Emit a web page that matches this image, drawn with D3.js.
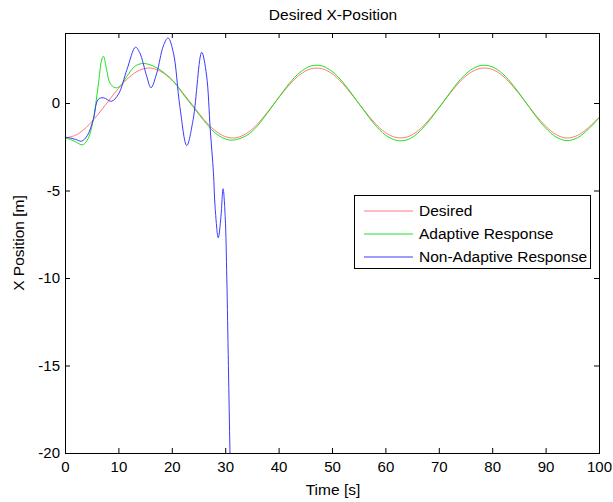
<!DOCTYPE html>
<html>
<head>
<meta charset="utf-8">
<script src="https://cdn.jsdelivr.net/npm/d3@7"></script>
<style>
  body { margin: 0; background: #fff; }
  text { font-family: "Liberation Sans", Arial, sans-serif; fill: #000; }
</style>
</head>
<body>
<svg class="chart"></svg>
<script>
const size = {w: 613, h: 502};
const box = {left: 65, right: 599, top: 33, bottom: 453};

// desired trajectory
const desiredT = [0,2,4,6,8,10,12,14,16,18,20,22,24,26,28,30,32,34,36,38,40,42,44,46,48,50,
    52,54,56,58,60,62,64,66,68,70,72,74,76,78,80,82,84,86,88,90,92,94,96,98,100];
const desiredX = [-2.00,-1.84,-1.39,-0.72,0.06,0.83,1.47,1.88,2.00,1.79,1.31,0.61,-0.17,-0.94,
    -1.55,-1.92,-1.99,-1.74,-1.22,-0.49,0.29,1.04,1.62,1.95,1.97,1.68,1.11,0.37,-0.41,-1.14,
    -1.69,-1.97,-1.95,-1.61,-1.01,-0.27,0.51,1.23,1.75,1.99,1.92,1.54,0.91,0.15,-0.64,-1.32,
    -1.81,-2.00,-1.85,-1.41,-0.82];

// adaptive response (green)
const adaptiveT = [0,1,2,3.3,4.3,5.3,6.2,6.9,7.2,7.8,8.4,9.4,10.3,11.6,13.1,14.7,17.2,20.3,22,24,
    26,28,30,31.5,34,36,38,40,42,44,46,48,50,52,54,56,58,60,62,64,66,68,70,72,74,76,78,80,82,
    84,86,88,90,92,94,96,98,100];
const adaptiveX = [-2.00,-2.08,-2.22,-2.39,-2.05,-0.94,0.96,2.50,2.67,1.90,1.15,0.87,0.96,1.53,
    2.10,2.26,2.01,1.25,0.55,-0.22,-1.00,-1.68,-2.05,-2.12,-1.86,-1.32,-0.53,0.31,1.12,1.75,
    2.11,2.13,1.81,1.20,0.40,-0.44,-1.23,-1.83,-2.13,-2.11,-1.74,-1.09,-0.29,0.55,1.33,1.89,
    2.15,2.07,1.66,0.98,0.16,-0.69,-1.43,-1.95,-2.15,-1.98,-1.50,-0.85];

// non-adaptive response (blue), diverges after ~30 s
const nonAdaptiveT = [0,1,2,3.1,4.2,5.3,6.2,7.2,8.7,10,11.6,13.2,14,15.3,16.1,17.2,18.4,19.3,20.3,
    21.5,22.8,24,25.6,26.5,27.2,27.8,28.1,28.7,29.2,29.6,30,30.3,30.6,30.9,31.2];
const nonAdaptiveX = [-1.95,-2.00,-2.08,-2.18,-1.85,-0.94,0.20,0.30,0.10,0.50,1.91,3.19,2.87,1.53,
    0.87,1.73,3.25,3.72,2.87,-0.18,-2.43,-0.94,2.90,1.60,-1.51,-3.99,-5.90,-7.70,-6.50,-4.90,
    -6.50,-10.0,-15.0,-20.0,-24.0];

const xTicks = [0,10,20,30,40,50,60,70,80,90,100];
const yTicks = [-20,-15,-10,-5,0];

const legendItems = [
    {name: 'Desired', color: '#ff7a7a'},
    {name: 'Adaptive Response', color: '#22e022'},
    {name: 'Non-Adaptive Response', color: '#3a3aff'}
];

const svg = d3.select('svg.chart')
    .attr('width', size.w)
    .attr('height', size.h);

const x = d3.scaleLinear().domain([0, 100]).range([box.left, box.right]);
const y = d3.scaleLinear().domain([-20, 4]).range([box.bottom, box.top]);

svg.append('defs').append('clipPath').attr('id', 'plot')
    .append('rect')
    .attr('x', box.left).attr('y', box.top)
    .attr('width', box.right - box.left).attr('height', box.bottom - box.top);

// curves
const series = [
    {t: desiredT, v: desiredX, color: legendItems[0].color},
    {t: adaptiveT, v: adaptiveX, color: legendItems[1].color},
    {t: nonAdaptiveT, v: nonAdaptiveX, color: legendItems[2].color}
];

const line = d3.line()
    .x(d => x(d[0]))
    .y(d => y(d[1]))
    .curve(d3.curveCatmullRom.alpha(0.5));

svg.append('g').attr('clip-path', 'url(#plot)')
    .selectAll('path')
    .data(series)
    .join('path')
    .attr('d', s => line(s.t.map((t, i) => [t, s.v[i]])))
    .attr('fill', 'none')
    .attr('stroke', s => s.color)
    .attr('stroke-width', 1);

// axes, ticks point inward like matlab
const axisStyle = g => {
    g.select('.domain').remove();
    g.selectAll('.tick line').attr('stroke', '#000');
    g.selectAll('.tick text').style('font-size', '15px');
};

svg.append('g')
    .attr('transform', `translate(0,${box.bottom})`)
    .call(d3.axisBottom(x).tickValues(xTicks).tickSize(-5).tickPadding(8).tickFormat(d => String(d)))
    .call(axisStyle);
svg.append('g')
    .attr('transform', `translate(0,${box.top})`)
    .call(d3.axisTop(x).tickValues(xTicks).tickSize(-5).tickFormat(''))
    .call(axisStyle);
svg.append('g')
    .attr('transform', `translate(${box.left},0)`)
    .call(d3.axisLeft(y).tickValues(yTicks).tickSize(-5).tickPadding(5).tickFormat(d => String(d)))
    .call(axisStyle);
svg.append('g')
    .attr('transform', `translate(${box.right},0)`)
    .call(d3.axisRight(y).tickValues(yTicks).tickSize(-5).tickFormat(''))
    .call(axisStyle);

svg.append('rect')
    .attr('x', box.left + 0.5).attr('y', box.top + 0.5)
    .attr('width', box.right - box.left).attr('height', box.bottom - box.top)
    .attr('fill', 'none').attr('stroke', '#000');

// labels
svg.append('text')
    .attr('x', 333).attr('y', 19.5)
    .attr('text-anchor', 'middle')
    .style('font-size', '15.5px')
    .text('Desired X-Position');
svg.append('text')
    .attr('x', 333).attr('y', 494.5)
    .attr('text-anchor', 'middle')
    .style('font-size', '15.5px')
    .text('Time [s]');
svg.append('text')
    .attr('transform', 'translate(23.5,243) rotate(-90)')
    .attr('text-anchor', 'middle')
    .style('font-size', '15.5px')
    .text('X Position [m]');

// legend
const legend = svg.append('g');
legend.append('rect')
    .attr('x', 354.5).attr('y', 195.5)
    .attr('width', 236).attr('height', 73)
    .attr('fill', '#fff').attr('stroke', '#000');

const rows = legend.selectAll('g.row')
    .data(legendItems)
    .join('g')
    .classed('row', true)
    .attr('transform', (d, i) => `translate(0,${211 + i * 23})`);
rows.append('line')
    .attr('x1', 364).attr('x2', 413)
    .attr('stroke', d => d.color);
rows.append('text')
    .attr('x', 419).attr('dy', '0.35em')
    .style('font-size', '15.5px')
    .text(d => d.name);
</script>
</body>
</html>
